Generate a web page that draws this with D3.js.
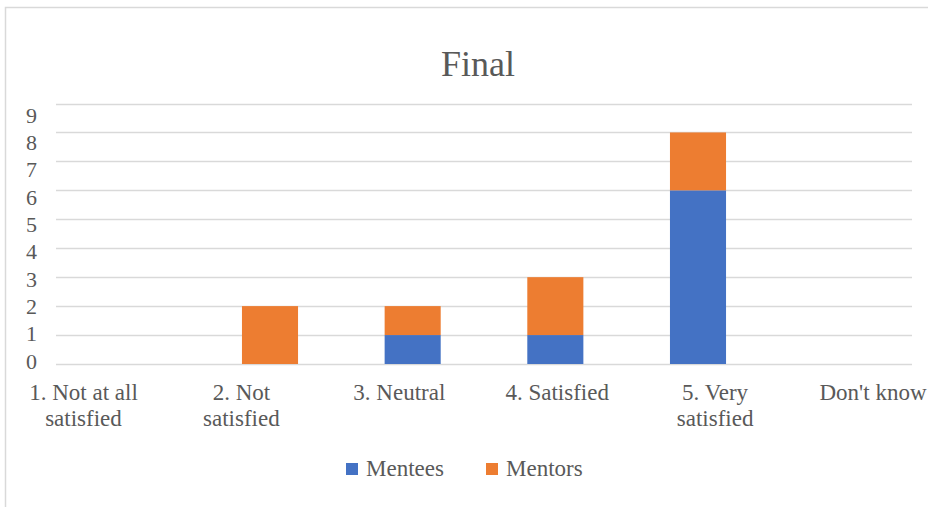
<!DOCTYPE html>
<html>
<head>
<meta charset="utf-8">
<script src="https://cdn.jsdelivr.net/npm/d3@7"></script>
<style>
  html, body { margin: 0; padding: 0; background: #fff; }
  svg { display: block; }
</style>
</head>
<body>
<svg id="chart" width="928" height="507"></svg>
<script>
const title = "Final";
const categories = ["1. Not at all satisfied", "2. Not satisfied", "3. Neutral", "4. Satisfied", "5. Very satisfied", "Don't know"];
const categoryLines = [["1. Not at all", "satisfied"], ["2. Not", "satisfied"], ["3. Neutral"], ["4. Satisfied"], ["5. Very", "satisfied"], ["Don't know"]];
const seriesNames = ["Mentees", "Mentors"];
const mentees = [0, 0, 1, 1, 6, 0];
const mentors = [0, 2, 1, 2, 2, 0];
const yTicks = [0, 1, 2, 3, 4, 5, 6, 7, 8, 9];
const colors = ["#4472C4", "#ED7D31"];

const FONT = "'Liberation Serif', 'Times New Roman', serif";
const TEXT_COLOR = "#595959";

const svg = d3.select("#chart").style("font-family", FONT);

// chart border
svg.append("rect")
  .attr("x", 5.5).attr("y", 7.5)
  .attr("width", 940).attr("height", 520)
  .attr("fill", "none").attr("stroke", "#D9D9D9").attr("stroke-width", 1.5);

const x = d3.scaleBand().domain(categories).range([56, 912]).paddingInner(0.607).paddingOuter(0.3035);
const y = d3.scaleLinear().domain([0, 9]).range([364, 103.5]);
// label placement scales (text positions in the reference are offset from the grid)
const yLabel = d3.scaleLinear().domain([0, 9]).range([368, 122]);
const xLabel = d3.scalePoint().domain(categories).range([83.5, 873]);

// gridlines
svg.append("g").selectAll("line").data(yTicks).join("line")
  .attr("x1", 56).attr("x2", 912)
  .attr("y1", d => Math.round(y(d)) + 0.5).attr("y2", d => Math.round(y(d)) + 0.5)
  .attr("stroke", "#D9D9D9").attr("stroke-width", 1.3);

// y axis labels
const yAxis = d3.axisLeft(yLabel).tickValues(yTicks).tickSize(0).tickPadding(0);
const yg = svg.append("g").attr("transform", "translate(37,0)").call(yAxis)
  .attr("font-family", null).attr("font-size", null);
yg.select(".domain").remove();
yg.selectAll("text").attr("dy", "0").attr("x", 0)
  .style("font-family", FONT).style("font-size", "22px").style("fill", TEXT_COLOR);

// stacked bars
const rows = categories.map((c, i) => ({ cat: c, Mentees: mentees[i], Mentors: mentors[i] }));
const stack = d3.stack().keys(seriesNames)(rows);
svg.append("g").selectAll("g").data(stack).join("g")
  .attr("fill", (d, i) => colors[i])
  .selectAll("rect").data(d => d).join("rect")
  .attr("x", d => x(d.data.cat))
  .attr("width", x.bandwidth())
  .attr("y", d => y(d[1]))
  .attr("height", d => y(d[0]) - y(d[1]));

// x labels
const xl = svg.append("g").selectAll("text").data(categories).join("text")
  .attr("x", d => xLabel(d))
  .attr("y", 399.5)
  .attr("text-anchor", "middle")
  .style("font-family", FONT).style("font-size", "23px").style("fill", TEXT_COLOR);
xl.selectAll("tspan").data((d, i) => categoryLines[i]).join("tspan")
  .attr("x", function () { return d3.select(this.parentNode).attr("x"); })
  .attr("dy", (d, i) => i === 0 ? 0 : 26.5)
  .text(d => d);

// title
svg.append("text").attr("x", 478).attr("y", 76).attr("text-anchor", "middle")
  .style("font-family", FONT).style("font-size", "36px").style("fill", TEXT_COLOR)
  .text(title);

// legend
const legendX = [346, 486];
const lg = svg.append("g").selectAll("g").data(seriesNames).join("g")
  .attr("transform", (d, i) => `translate(${legendX[i]},0)`);
lg.append("rect").attr("x", 0).attr("y", 463).attr("width", 12).attr("height", 12)
  .attr("fill", (d, i) => colors[i]);
lg.append("text").attr("x", 20).attr("y", 476)
  .style("font-family", FONT).style("font-size", "23px").style("fill", TEXT_COLOR)
  .text(d => d);
</script>
</body>
</html>
